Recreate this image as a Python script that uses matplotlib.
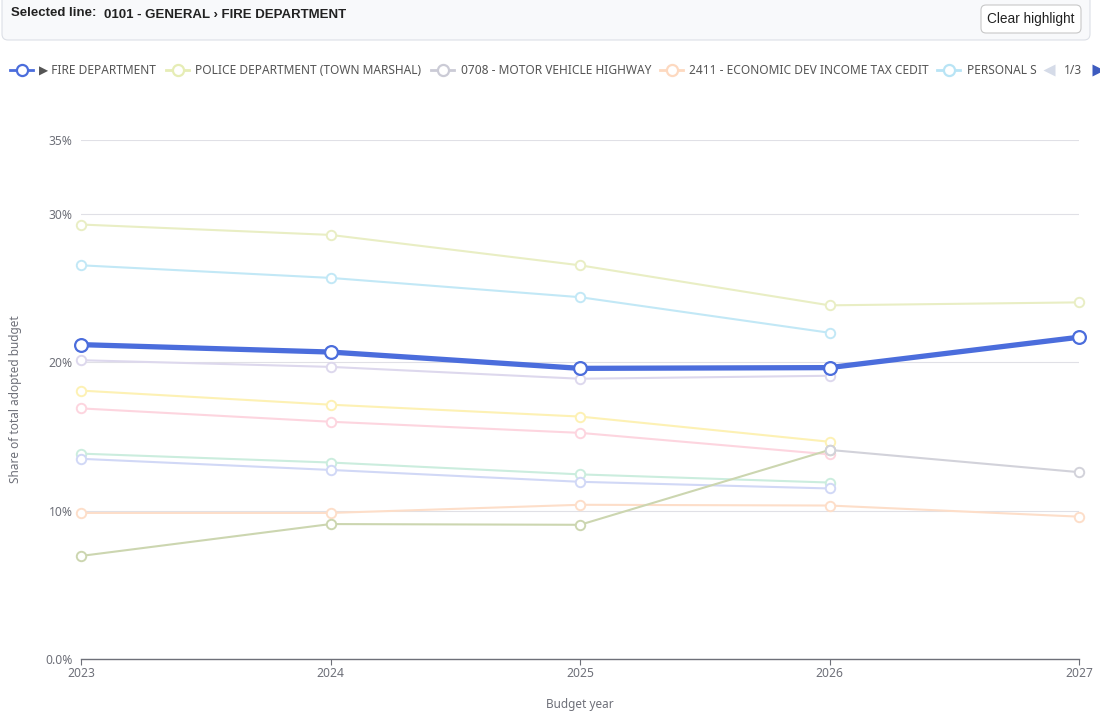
import numpy as np
import matplotlib
matplotlib.use("Agg")
import matplotlib.pyplot as plt
from matplotlib.lines import Line2D
from matplotlib.patches import FancyBboxPatch
from matplotlib.transforms import Affine2D

plt.rcParams['font.family'] = ['Noto Sans', 'DejaVu Sans']

years = [2023, 2024, 2025, 2026, 2027]
nan = np.nan

# share of total adopted budget (%)
fire_dept = [21.2, 20.7, 19.6, 19.65, 21.7]
police_dept = [29.3, 28.6, 26.55, 23.85, 24.05]
personal_services = [26.55, 25.7, 24.4, 22.0, nan]
series_lavender = [20.15, 19.7, 18.9, 19.1, nan]
series_yellow = [18.1, 17.15, 16.35, 14.65, nan]
series_pink = [16.9, 16.0, 15.25, 13.8, nan]
series_mint = [13.85, 13.25, 12.45, 11.9, nan]
series_periwinkle = [13.5, 12.75, 11.95, 11.5, nan]
econ_dev = [9.85, 9.85, 10.4, 10.35, 9.6]
series_olive = [6.95, 9.1, 9.05, 14.1, nan]
motor_vehicle = [nan, nan, nan, 14.1, 12.6]

y_ticks = [0, 10, 20, 30, 35]
y_tick_labels = ["0.0%", "10%", "20%", "30%", "35%"]

legend_names = ["\u25B6 FIRE DEPARTMENT", "POLICE DEPARTMENT (TOWN MARSHAL)",
                "0708 - MOTOR VEHICLE HIGHWAY", "2411 - ECONOMIC DEV INCOME TAX CEDIT",
                "PERSONAL S"]

faded = [
    (police_dept, '#e9eec4'),
    (personal_services, '#c2e8f6'),
    (series_lavender, '#ddd8ed'),
    (series_yellow, '#fdf1b4'),
    (series_pink, '#fdd5df'),
    (series_mint, '#cbedde'),
    (series_periwinkle, '#d1d8f6'),
    (econ_dev, '#fddec9'),
    (series_olive, '#ccd6b0'),
    (motor_vehicle, '#d2d2da'),
]
blue = '#4b6ddc'

W, H = 1100, 721
fig = plt.figure(figsize=(W / 100, H / 100), dpi=100)
ax = fig.add_axes([81 / W, 62 / H, 998 / W, 519 / H])

for vals, col in faded:
    ax.plot(years, vals, color=col, lw=1.5, marker='o', ms=6.8, mfc='white',
            mec=col, mew=1.4, clip_on=False, zorder=3)
ax.plot(years, fire_dept, color=blue, lw=3.8, marker='o', ms=9.2, mfc='white',
        mec=blue, mew=1.6, clip_on=False, zorder=5)

ax.set_xlim(2023, 2027)
ax.set_ylim(0, 35)
ax.set_xticks(years)
ax.set_xticklabels([str(y) for y in years])
ax.set_yticks(y_ticks)
ax.set_yticklabels(y_tick_labels)
ax.yaxis.grid(True, color='#e0e0e6', lw=0.8)
ax.set_axisbelow(True)
for s in ['left', 'top', 'right']:
    ax.spines[s].set_visible(False)
ax.spines['bottom'].set_color('#6e7079')
ax.spines['bottom'].set_linewidth(1)
ax.tick_params(axis='y', length=0, pad=6, labelsize=8.7, labelcolor='#6e7079')
ax.tick_params(axis='x', length=4, color='#6e7079', pad=2, labelsize=8.7, labelcolor='#6e7079')
ax.set_xlabel("Budget year", fontsize=8.5, color='#6e7079', labelpad=13)
ax.set_ylabel("Share of total adopted budget", fontsize=8.5, color='#6e7079')
ax.yaxis.set_label_coords(-0.059, 0.5)

# pixel transform, origin top-left
px = Affine2D().scale(1 / 100, -1 / 100).translate(0, H / 100) + fig.dpi_scale_trans

# header box
fig.patches.append(FancyBboxPatch((2, -10), 1088, 50, boxstyle="round,pad=0,rounding_size=6",
                                  fc='#f8f9fb', ec='#dcdfe6', lw=0.8, transform=px, figure=fig))
fig.text(11, 13, "Selected line:", transform=px, fontsize=9.5, fontweight='bold',
         family='Liberation Sans', color='#222222', va='center')
fig.text(104, 15, "0101 - GENERAL \u203A FIRE DEPARTMENT", transform=px, fontsize=9.5,
         fontweight='bold', family='Liberation Sans', color='#222222', va='center')
fig.patches.append(FancyBboxPatch((981, 5), 100, 28, boxstyle="round,pad=0,rounding_size=5",
                                  fc='white', ec='#c8c8c8', lw=0.8, transform=px, figure=fig))
fig.text(1031, 19.5, "Clear highlight", transform=px, fontsize=9.8, family='Liberation Sans',
         color='#222222', ha='center', va='center')

# legend (page 1 of 3)
legend_cols = [blue, '#e6edb5', '#cbcbd6', '#fdd9c0', '#b8e4f5']
icon_x = [10, 166, 431, 660, 937]
text_x = [39, 195, 461, 689, 967]
for name, col, ix, tx in zip(legend_names, legend_cols, icon_x, text_x):
    fig.lines.append(Line2D([ix, ix + 23], [70, 70], color=col, lw=2, marker=None,
                            transform=px, figure=fig))
    fig.lines.append(Line2D([ix + 11.5], [70], color=col, marker='o', ms=8, mfc='white',
                            mec=col, mew=1.6, transform=px, figure=fig))
    fig.text(tx, 70, name, transform=px, fontsize=8.6, color='#555555', va='center')
fig.lines.append(Line2D([1049], [70], marker='<', ms=8, color='#d5dbe8', mec='none',
                        transform=px, figure=fig))
fig.text(1073, 70, "1/3", transform=px, fontsize=8.6, color='#555555', va='center', ha='center')
fig.lines.append(Line2D([1098], [70], marker='>', ms=8, color='#3d5bbf', mec='none',
                        transform=px, figure=fig))

fig.savefig("out.png", dpi=100)
